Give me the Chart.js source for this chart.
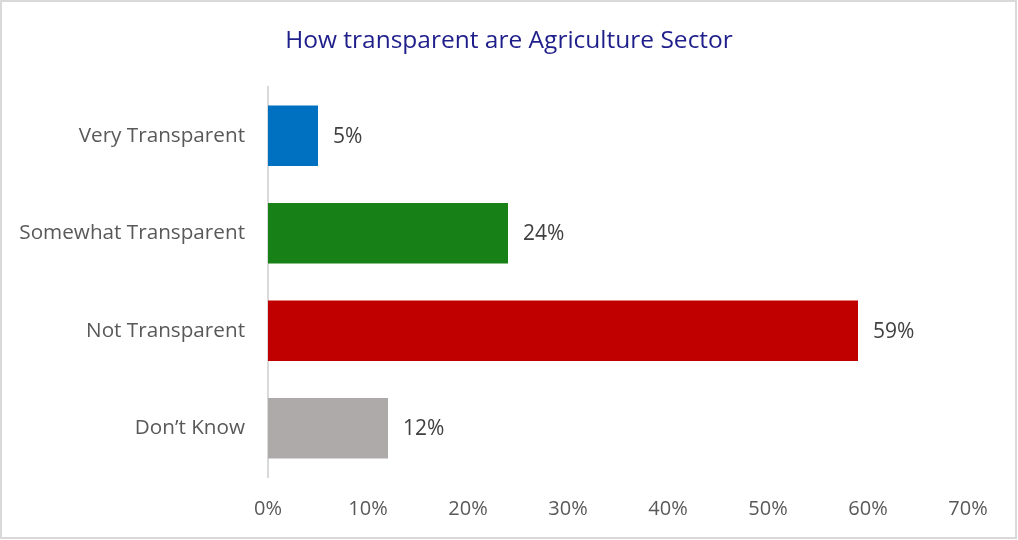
<!DOCTYPE html>
<html>
<head>
<meta charset="utf-8">
<title>Agriculture Sector transparency</title>
<script src="https://cdn.jsdelivr.net/npm/chart.js@4/dist/chart.umd.min.js"></script>
<style>
  html, body { margin: 0; padding: 0; background: #fff; }
  #wrap { width: 1018px; height: 540px; }
</style>
</head>
<body>
<div id="wrap"><canvas id="transparencyChart" width="1018" height="540"></canvas></div>
<script>
// Survey answers
const categories = ['Very Transparent', 'Somewhat Transparent', 'Not Transparent', 'Don\u2019t Know'];
const shares = [5, 24, 59, 12];
const barColors = ['#0070C0', '#178017', '#C00000', '#AEAAAA'];
const xTicks = [0, 10, 20, 30, 40, 50, 60, 70];
const chartTitle = 'How transparent are Agriculture Sector';

const FONT = "'Open Sans', 'Noto Sans', sans-serif";

// White background, thin grey frame and the title centred on the page
const frame = {
  id: 'frame',
  beforeDraw(chart) {
    const c = chart.ctx;
    c.save();
    c.fillStyle = '#fff';
    c.fillRect(0, 0, chart.width, chart.height);
    c.strokeStyle = '#d9d9d9';
    c.lineWidth = 2;
    c.strokeRect(1, 1, chart.width - 3, chart.height - 3);
    c.font = '24.5px ' + FONT;
    c.fillStyle = '#1F1F8C';
    c.textAlign = 'center';
    c.textBaseline = 'middle';
    c.fillText(chartTitle, chart.width / 2, 41);
    c.restore();
  }
};

// Percentage labels at the end of each bar
const valueLabels = {
  id: 'valueLabels',
  afterDatasetsDraw(chart) {
    const c = chart.ctx;
    const meta = chart.getDatasetMeta(0);
    c.save();
    c.font = '21px ' + FONT;
    c.fillStyle = '#404040';
    c.textBaseline = 'middle';
    c.textAlign = 'left';
    meta.data.forEach((bar, i) => {
      c.fillText(shares[i] + '%', bar.x + 15, bar.y + 1);
    });
    c.restore();
  }
};

const ctx = document.getElementById('transparencyChart').getContext('2d');
const chart = new Chart(ctx, {
  type: 'bar',
  data: {
    labels: categories,
    datasets: [{
      label: 'Share',
      data: shares,
      backgroundColor: barColors,
      barPercentage: 0.62,
      categoryPercentage: 1
    }]
  },
  options: {
    indexAxis: 'y',
    responsive: false,
    animation: false,
    // top padding leaves room for the title drawn in the frame plugin
    layout: { padding: { left: 0, right: 50, top: 87, bottom: 0 } },
    plugins: {
      legend: { display: false },
      tooltip: { enabled: false },
      title: { display: false }
    },
    scales: {
      x: {
        min: 0,
        max: 70,
        afterBuildTicks(axis) {
          axis.ticks = xTicks.map(v => ({ value: v }));
        },
        afterFit(axis) { axis.height = 63; },
        grid: { display: false },
        border: { display: false },
        ticks: {
          color: '#595959',
          font: { family: FONT, size: 20 },
          padding: 12,
          callback: v => v + '%'
        }
      },
      y: {
        afterFit(axis) { axis.width = 268; },
        grid: { display: false },
        border: { display: true, color: '#d9d9d9', width: 2 },
        ticks: {
          color: '#595959',
          font: { family: FONT, size: 20.7 },
          padding: 15
        }
      }
    }
  },
  plugins: [frame, valueLabels]
});
</script>
</body>
</html>
